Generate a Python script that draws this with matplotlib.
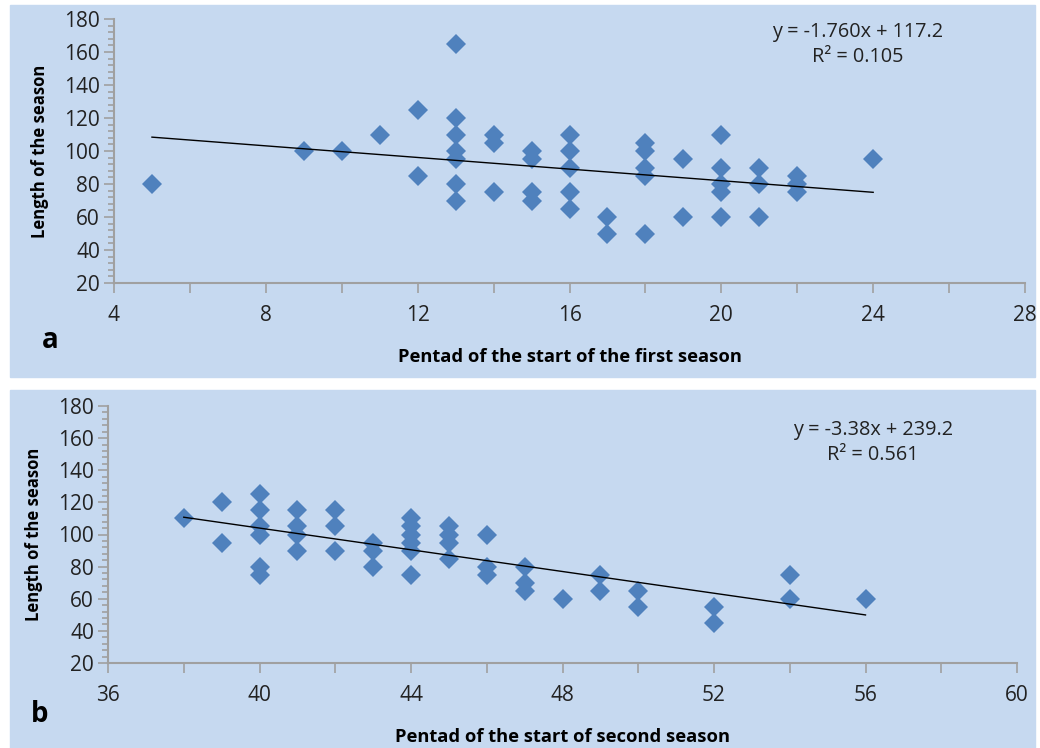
import matplotlib.pyplot as plt
from matplotlib.patches import Rectangle

# panel a: first season
x1 = [5, 9, 10, 11, 12, 12,
      13, 13, 13, 13, 13, 13, 13,
      14, 14, 14, 15, 15, 15, 15,
      16, 16, 16, 16, 16, 17, 17,
      18, 18, 18, 18, 18, 19, 19,
      20, 20, 20, 20, 20, 21, 21, 21,
      22, 22, 22, 24]
y1 = [80, 100, 100, 110, 125, 85,
      165, 120, 110, 100, 95, 80, 70,
      110, 105, 75, 100, 95, 75, 70,
      110, 100, 90, 75, 65, 60, 50,
      105, 100, 90, 85, 50, 95, 60,
      110, 90, 80, 75, 60, 90, 80, 60,
      85, 80, 75, 95]

# panel b: second season
x2 = [38, 39, 39,
      40, 40, 40, 40, 40, 40,
      41, 41, 41, 41, 42, 42, 42,
      43, 43, 43, 44, 44, 44, 44, 44, 44,
      45, 45, 45, 45, 46, 46, 46,
      47, 47, 47, 48, 49, 49, 50, 50,
      52, 52, 54, 54, 56]
y2 = [110, 120, 95,
      125, 115, 105, 100, 80, 75,
      115, 105, 100, 90, 115, 105, 90,
      95, 90, 80, 110, 105, 100, 95, 90, 75,
      105, 100, 95, 85, 100, 80, 75,
      80, 70, 65, 60, 75, 65, 65, 55,
      55, 45, 75, 60, 60]

fit1 = (-1.760, 117.2, 0.105)
fit2 = (-3.38, 239.2, 0.561)

bg = '#c6d9f0'
blue = '#4f81bd'
grey = '#a0a0a0'
font = 'Open Sans'

fig = plt.figure(figsize=(10.4, 7.48), dpi=100)
fig.patches.append(Rectangle((10/1040, 1-377/748), 1025/1040, 372/748,
                             transform=fig.transFigure, color=bg, zorder=-5))
fig.patches.append(Rectangle((10/1040, 0), 1025/1040, 358/748,
                             transform=fig.transFigure, color=bg, zorder=-5))

ax1 = fig.add_axes([114/1040, 1-283/748, 911/1040, 264/748])
ax2 = fig.add_axes([108/1040, 1-663/748, 909/1040, 257/748])


def style(ax, xmin, xmax):
    ax.set_facecolor('none')
    ax.set_xlim(xmin, xmax)
    ax.set_ylim(20, 180)
    ax.set_xticks(range(xmin, xmax + 1, 4))
    ax.set_xticks(range(xmin, xmax + 1, 2), minor=True)
    ax.set_yticks(range(20, 181, 20))
    ax.set_yticks(range(20, 181, 4), minor=True)
    for s in ['top', 'right']:
        ax.spines[s].set_visible(False)
    for s in ['left', 'bottom']:
        ax.spines[s].set_color(grey)
        ax.spines[s].set_linewidth(1.5)
    ax.tick_params(which='both', color=grey, width=1.2)
    ax.tick_params(which='major', length=7, labelsize=15, pad=9)
    ax.tick_params(axis='y', which='major', pad=3)
    ax.tick_params(axis='x', which='minor', length=7)
    ax.tick_params(axis='y', which='minor', length=4)
    for lab in ax.get_xticklabels() + ax.get_yticklabels():
        lab.set_fontfamily(font)
        lab.set_color('#222222')


for ax, x, y, fit, xr, lab, letter, pos in [
        (ax1, x1, y1, fit1, (4, 28), 'Pentad of the start of the first season', 'a', (50, 341)),
        (ax2, x2, y2, fit2, (36, 60), 'Pentad of the start of second season', 'b', (40, 714))]:
    style(ax, *xr)
    ax.plot(x, y, 'D', color=blue, markersize=10, markeredgewidth=0, clip_on=False)
    m, c, r2 = fit
    xs = [min(x), max(x)]
    ax.plot(xs, [m * v + c for v in xs], color='black', lw=1)
    ax.set_xlabel(lab, fontfamily=font, fontweight='bold', fontsize=13.2, labelpad=16)
    ax.set_ylabel('Length of the season', fontfamily=font, fontweight='bold', fontsize=12, labelpad=11)
    fig.text(pos[0]/1040, 1-pos[1]/748, letter, fontfamily=font, fontweight='bold',
             fontsize=20, ha='center', va='center')

ax1.text(23.6, 172, 'y = %.3fx + %.1f' % (fit1[0], fit1[1]), ha='center', va='center',
         fontfamily=font, fontsize=14.3, color='#222222')
ax1.text(23.6, 157, 'R² = %.3f' % fit1[2], ha='center', va='center',
         fontfamily=font, fontsize=14.3, color='#222222')
ax2.text(56.2, 165, 'y = %.2fx + %.1f' % (fit2[0], fit2[1]), ha='center', va='center',
         fontfamily=font, fontsize=14.3, color='#222222')
ax2.text(56.2, 149.5, 'R² = %.3f' % fit2[2], ha='center', va='center',
         fontfamily=font, fontsize=14.3, color='#222222')

fig.savefig('out.png', dpi=100)
